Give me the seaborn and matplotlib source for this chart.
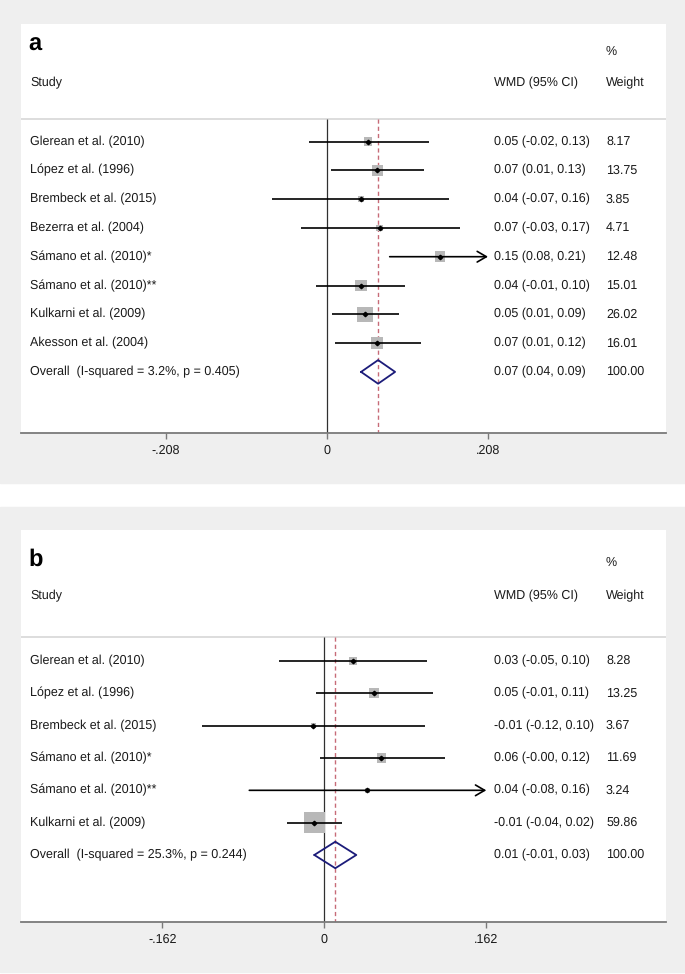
import numpy as np
import pandas as pd
import matplotlib
matplotlib.use("Agg")
import matplotlib.pyplot as plt
import seaborn as sns
from matplotlib.patches import Rectangle

sns.set_theme(style="white")
plt.rcParams['font.family'] = ['Liberation Sans', 'DejaVu Sans']
plt.rcParams['text.hinting'] = 'no_hinting'

# --------------------------
# Data
# --------------------------

# panel a
studies_a = ['Glerean et al. (2010)', 'López et al. (1996)', 'Brembeck et al. (2015)',
             'Bezerra et al. (2004)', 'Sámano et al. (2010)*', 'Sámano et al. (2010)**',
             'Kulkarni et al. (2009)', 'Akesson et al. (2004)']
wmd_a = [0.053, 0.065, 0.044, 0.068, 0.146, 0.044, 0.049, 0.065]
lo_a = [-0.023, 0.005, -0.071, -0.034, 0.081, -0.014, 0.006, 0.010]
hi_a = [0.132, 0.125, 0.158, 0.172, 0.213, 0.101, 0.093, 0.121]
ci_text_a = ['0.05 (-0.02, 0.13)', '0.07 (0.01, 0.13)', '0.04 (-0.07, 0.16)',
             '0.07 (-0.03, 0.17)', '0.15 (0.08, 0.21)', '0.04 (-0.01, 0.10)',
             '0.05 (0.01, 0.09)', '0.07 (0.01, 0.12)']
weight_a = [8.17, 13.75, 3.85, 4.71, 12.48, 15.01, 26.02, 16.01]
overall_a = [0.066, 0.044, 0.088]
overall_label_a = 'Overall  (I-squared = 3.2%, p = 0.405)'
overall_text_a = '0.07 (0.04, 0.09)'
ticks_a = [-0.208, 0, 0.208]
ticklabels_a = ['-.208', '0', '.208']

# panel b
studies_b = ['Glerean et al. (2010)', 'López et al. (1996)', 'Brembeck et al. (2015)',
             'Sámano et al. (2010)*', 'Sámano et al. (2010)**', 'Kulkarni et al. (2009)']
wmd_b = [0.029, 0.050, -0.011, 0.057, 0.043, -0.010]
lo_b = [-0.045, -0.008, -0.122, -0.004, -0.075, -0.037]
hi_b = [0.103, 0.109, 0.101, 0.121, 0.165, 0.018]
ci_text_b = ['0.03 (-0.05, 0.10)', '0.05 (-0.01, 0.11)', '-0.01 (-0.12, 0.10)',
             '0.06 (-0.00, 0.12)', '0.04 (-0.08, 0.16)', '-0.01 (-0.04, 0.02)']
weight_b = [8.28, 13.25, 3.67, 11.69, 3.24, 59.86]
overall_b = [0.011, -0.010, 0.032]
overall_label_b = 'Overall  (I-squared = 25.3%, p = 0.244)'
overall_text_b = '0.01 (-0.01, 0.03)'
ticks_b = [-0.162, 0, 0.162]
ticklabels_b = ['-.162', '0', '.162']

TXT = '#1a1a1a'
FS = 9


def draw_panel(ax, letter, studies, wmd, lo, hi, ci_text, weight, overall,
               ov_label, ov_text, ticks, ticklabels, xlim, ylim, sep,
               head, sq_k):
    n = len(studies)
    rows = np.arange(n)
    df = pd.DataFrame({'study': studies, 'wmd': wmd, 'lo': lo, 'hi': hi,
                       'w': weight, 'row': rows})
    xmax = ticks[-1]

    ax.set_xlim(xlim)
    ax.set_ylim(ylim)

    # reference lines
    ax.axhline(sep, color='#dadada', lw=1.3, zorder=1)
    ax.vlines(0, sep, ylim[0], color='#303030', lw=0.9, zorder=2)
    ax.vlines(overall[0], sep, ylim[0], color='#c76b78', lw=1.0,
              linestyles=(0, (3, 2.2)), zorder=2)

    # weight boxes (area proportional to weight)
    sns.scatterplot(data=df, x='wmd', y='row', size='w', marker='s',
                    sizes=(sq_k * df.w.min(), sq_k * df.w.max()),
                    size_norm=(df.w.min(), df.w.max()),
                    color='#b8b8b8', linewidth=0, legend=False, ax=ax, zorder=3)

    # confidence intervals
    for _, r in df.iterrows():
        if r.hi > xmax:
            ax.annotate('', xy=(xmax, r.row), xytext=(r.lo, r.row),
                        arrowprops=dict(arrowstyle='->,head_length=0.55,head_width=0.32',
                                        lw=1.2, color='black', shrinkA=0, shrinkB=0),
                        zorder=4)
        else:
            ax.hlines(r.row, r.lo, r.hi, color='black', lw=1.2, zorder=4)
    ax.plot(df.wmd, df.row, 'D', color='black', ms=2.3, zorder=5)

    # overall diamond
    oy = n
    est, olo, ohi = overall
    ax.plot([olo, est, ohi, est, olo], [oy, oy - 0.41, oy, oy + 0.41, oy],
            color='#1c1c7a', lw=1.3, zorder=5)

    # text columns
    tr = ax.get_yaxis_transform()
    ax.text(0.012, head['letter'], letter, transform=tr, fontsize=17,
            fontweight='bold', color='black', va='center')
    ax.text(0.907, head['pct'], '%', transform=tr, fontsize=FS, color=TXT, va='center')
    ax.text(0.014, head['study'], 'Study', transform=tr, fontsize=FS, color=TXT, va='center')
    ax.text(0.733, head['study'], 'WMD (95% CI)', transform=tr, fontsize=FS, color=TXT, va='center')
    ax.text(0.907, head['study'], 'Weight', transform=tr, fontsize=FS, color=TXT, va='center')
    for i in range(n):
        ax.text(0.014, i, studies[i], transform=tr, fontsize=FS, color=TXT, va='center')
        ax.text(0.733, i, ci_text[i], transform=tr, fontsize=FS, color=TXT, va='center')
        ax.text(0.907, i, f'{weight[i]:.2f}', transform=tr, fontsize=FS, color=TXT, va='center')
    ax.text(0.014, oy, ov_label, transform=tr, fontsize=FS, color=TXT, va='center')
    ax.text(0.733, oy, ov_text, transform=tr, fontsize=FS, color=TXT, va='center')
    ax.text(0.907, oy, '100.00', transform=tr, fontsize=FS, color=TXT, va='center')

    # axes styling
    ax.set_xticks(ticks)
    ax.set_xticklabels(ticklabels)
    ax.set_yticks([])
    ax.set_xlabel('')
    ax.set_ylabel('')
    for s in ['top', 'left', 'right']:
        ax.spines[s].set_visible(False)
    ax.spines['bottom'].set_color('#7a7a7a')
    ax.spines['bottom'].set_linewidth(1.3)
    ax.tick_params(axis='x', bottom=True, length=4, width=1, color='#7a7a7a',
                   labelsize=FS, labelcolor=TXT, pad=4)
    ax.set_facecolor('white')


W, H = 685, 974
fig = plt.figure(figsize=(W / 100, H / 100), dpi=100)
fig.patch.set_facecolor('white')

# gray frames
fig.patches.append(Rectangle((0, 1 - 483 / H), 1, 483 / H, transform=fig.transFigure,
                             color='#efefef', zorder=-5))
fig.patches.append(Rectangle((0, 1 - 972 / H), 1, (972 - 507) / H, transform=fig.transFigure,
                             color='#efefef', zorder=-5))

# panel a: white area x 21..666, y 24..433 px
ax_a = fig.add_axes([21 / W, 1 - 433 / H, 645 / W, (433 - 24) / H])
sp_a, r0_a = 28.8, 141.5
ylim_a = ((433 - r0_a) / sp_a, (24 - r0_a) / sp_a)
head_a = {'letter': (45 - r0_a) / sp_a, 'pct': (52 - r0_a) / sp_a, 'study': (83 - r0_a) / sp_a}
draw_panel(ax_a, 'a', studies_a, wmd_a, lo_a, hi_a, ci_text_a, weight_a, overall_a,
           overall_label_a, overall_text_a, ticks_a, ticklabels_a,
           xlim=((21 - 327) / 774, (666 - 327) / 774), ylim=ylim_a,
           sep=(119 - r0_a) / sp_a, head=head_a, sq_k=4.6)

# panel b: white area x 21..666, y 530..922 px
ax_b = fig.add_axes([21 / W, 1 - 922 / H, 645 / W, (922 - 530) / H])
sp_b, r0_b = 32.33, 661
ylim_b = ((922 - r0_b) / sp_b, (530 - r0_b) / sp_b)
head_b = {'letter': (560 - r0_b) / sp_b, 'pct': (563 - r0_b) / sp_b, 'study': (596 - r0_b) / sp_b}
draw_panel(ax_b, 'b', studies_b, wmd_b, lo_b, hi_b, ci_text_b, weight_b, overall_b,
           overall_label_b, overall_text_b, ticks_b, ticklabels_b,
           xlim=((21 - 324.3) / 1000, (666 - 324.3) / 1000), ylim=ylim_b,
           sep=(637 - r0_b) / sp_b, head=head_b, sq_k=4.0)

fig.savefig('out.png', dpi=100, facecolor=fig.get_facecolor())
